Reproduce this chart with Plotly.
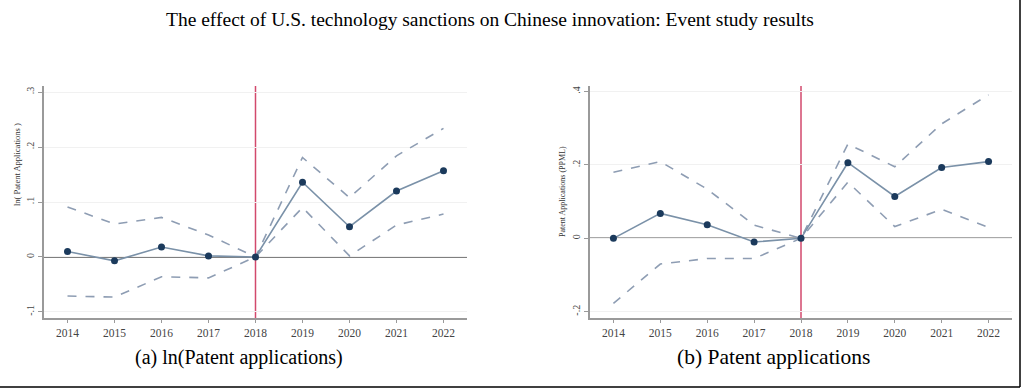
import plotly.graph_objects as go

years = [2014, 2015, 2016, 2017, 2018, 2019, 2020, 2021, 2022]

# Panel (a): ln(Patent applications)
a_coef = [0.010, -0.007, 0.018, 0.002, 0.0, 0.136, 0.055, 0.120, 0.157]
a_upper = [0.091, 0.060, 0.072, 0.040, 0.0, 0.181, 0.108, 0.184, 0.234]
a_lower = [-0.071, -0.073, -0.036, -0.038, 0.0, 0.090, 0.002, 0.058, 0.078]
a_ticks = [-0.1, 0.0, 0.1, 0.2, 0.3]
a_ticktext = ["-.1", "0", ".1", ".2", ".3"]

# Panel (b): Patent applications (PPML)
b_coef = [0.0, 0.068, 0.037, -0.010, 0.0, 0.206, 0.114, 0.193, 0.209]
b_upper = [0.180, 0.209, 0.134, 0.036, 0.0, 0.257, 0.195, 0.312, 0.391]
b_lower = [-0.177, -0.070, -0.055, -0.055, 0.0, 0.153, 0.032, 0.079, 0.030]
b_ticks = [-0.2, 0.0, 0.2, 0.4]
b_ticktext = ["-.2", "0", ".2", ".4"]

event_year = 2018

title_text = "The effect of U.S. technology sanctions on Chinese innovation: Event study results"
cap_a = "(a) ln(Patent applications)"
cap_b = "(b) Patent applications"
ytitle_a = "ln( Patent Applications )"
ytitle_b = "Patent Applications (PPML)"

W, H = 1024, 389
SERIF = "Liberation Serif, Times New Roman, serif"

LINE_C = "#7a91a8"
MARK_C = "#1b3a5c"
CI_C = "#8e9db3"
RED_C = "#d2496c"
AX_C = "#9a9a9a"


def px(sx):
    return sx / W


def py(sy):
    return 1 - sy / H


fig = go.Figure()


def add_panel(xa, ya, coef, up, lo):
    fig.add_trace(go.Scatter(x=years, y=up, mode="lines", xaxis=xa, yaxis=ya,
                             line=dict(color=CI_C, width=1.6, dash="dash"), showlegend=False, hoverinfo="skip"))
    fig.add_trace(go.Scatter(x=years, y=lo, mode="lines", xaxis=xa, yaxis=ya,
                             line=dict(color=CI_C, width=1.6, dash="dash"), showlegend=False, hoverinfo="skip"))
    fig.add_trace(go.Scatter(x=years, y=coef, mode="lines+markers", xaxis=xa, yaxis=ya,
                             line=dict(color=LINE_C, width=1.6),
                             marker=dict(color=MARK_C, size=7), showlegend=False))


add_panel("x", "y", a_coef, a_upper, a_lower)
add_panel("x2", "y2", b_coef, b_upper, b_lower)

xcommon = dict(range=[2013.5, 2022.5], tickmode="array", tickvals=years,
               ticktext=[str(y) for y in years], showgrid=False, zeroline=False,
               showline=True, linecolor=AX_C, linewidth=1.5, ticks="outside",
               ticklen=3, tickcolor=AX_C, tickfont=dict(family=SERIF, size=11.5, color="#444"))
ycommon = dict(showgrid=True, gridcolor="#f1f1f1", gridwidth=1, zeroline=False,
               showline=True, linecolor=AX_C, linewidth=1.5, ticks="outside",
               ticklen=4, tickcolor=AX_C, tickangle=-90,
               tickfont=dict(family=SERIF, size=10, color="#444"))

dom_y = [py(318), py(86)]
fig.update_layout(
    width=W, height=H,
    margin=dict(l=0, r=0, t=0, b=0),
    paper_bgcolor="white", plot_bgcolor="white",
    xaxis=dict(domain=[px(44), px(467)], anchor="y", **xcommon),
    yaxis=dict(domain=dom_y, anchor="x", range=[-0.111, 0.311],
               tickvals=a_ticks, ticktext=a_ticktext, **ycommon),
    xaxis2=dict(domain=[px(590), px(1012)], anchor="y2", **xcommon),
    yaxis2=dict(domain=dom_y, anchor="x2", range=[-0.217, 0.415],
                tickvals=b_ticks, ticktext=b_ticktext, **ycommon),
)

# zero lines and event lines
for xr, yr in [("x", "y"), ("x2", "y2")]:
    fig.add_shape(type="line", xref=xr + " domain", yref=yr, x0=0, x1=1, y0=0, y1=0,
                  line=dict(color="#555555", width=1.5), layer="below")
    fig.add_shape(type="line", xref=xr, yref=yr + " domain", x0=event_year, x1=event_year, y0=0, y1=1,
                  line=dict(color=RED_C, width=1.5), layer="below")

# frame lines (right and bottom)
fig.add_shape(type="line", xref="paper", yref="paper", x0=px(1020), x1=px(1020), y0=py(387), y1=1,
              line=dict(color="black", width=1.5))
fig.add_shape(type="line", xref="paper", yref="paper", x0=0, x1=px(1020), y0=py(387), y1=py(387),
              line=dict(color="black", width=1.5))

ann = [
    dict(text=title_text, x=px(490), y=py(20), size=19.5),
    dict(text=cap_a, x=px(239), y=py(357), size=20),
    dict(text=cap_b, x=px(773), y=py(357), size=21.5),
]
for a in ann:
    fig.add_annotation(text=a["text"], x=a["x"], y=a["y"], xref="paper", yref="paper",
                       showarrow=False, xanchor="center", yanchor="middle",
                       font=dict(family=SERIF, size=a["size"], color="black"))

for t, xp, yp, fs in [(ytitle_a, 17, 165, 8.5), (ytitle_b, 562, 192, 8)]:
    fig.add_annotation(text=t, x=px(xp), y=py(yp), xref="paper", yref="paper",
                       showarrow=False, textangle=-90, xanchor="center", yanchor="middle",
                       font=dict(family=SERIF, size=fs, color="#333"))

fig.write_html("out.html",
               config={"displayModeBar": False},
               post_script="document.body.style.margin='0';document.body.style.overflow='hidden';")
